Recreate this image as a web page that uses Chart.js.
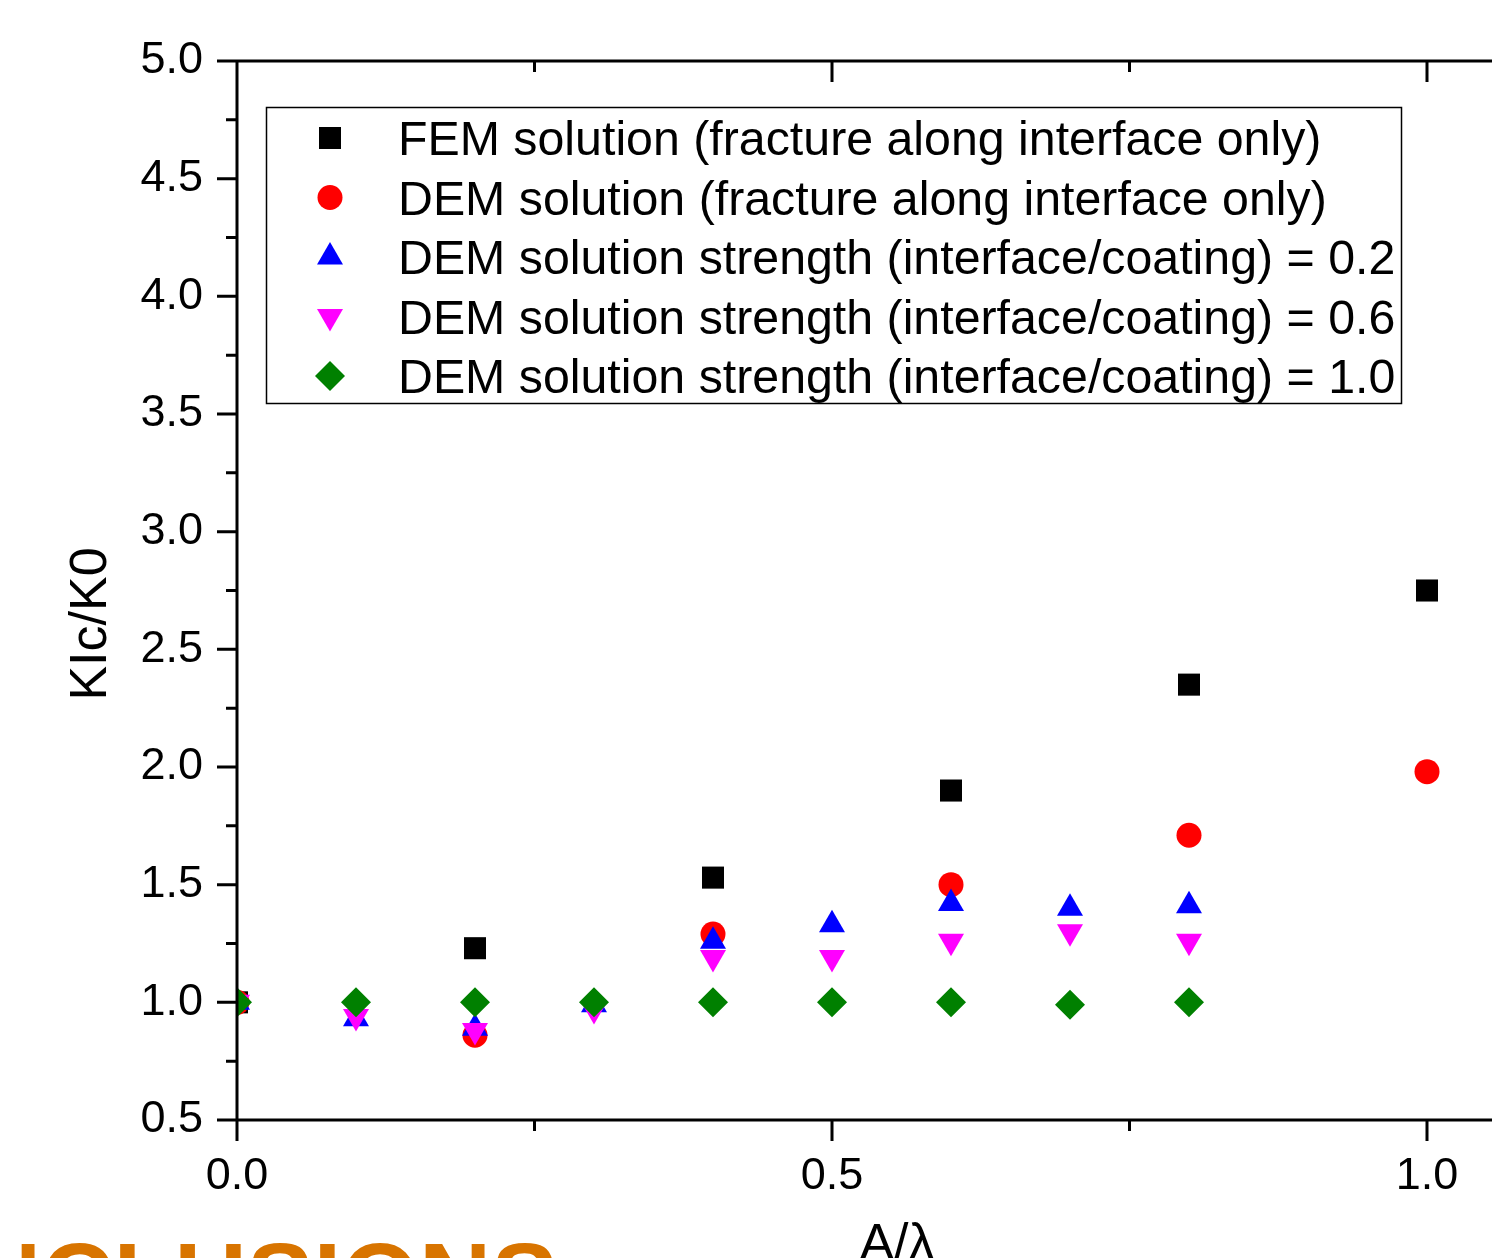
<!DOCTYPE html>
<html>
<head>
<meta charset="utf-8">
<script src="https://cdn.jsdelivr.net/npm/chart.js@4.4.1/dist/chart.umd.min.js"></script>
<style>
    html, body { margin: 0; padding: 0; background: #fff; overflow: hidden; }
    #wrap { width: 1492px; height: 1258px; overflow: hidden; position: relative; }
    canvas { display: block; }
</style>
</head>
<body>
<div id="wrap"><canvas id="chart" width="1600" height="1258"></canvas></div>
<script>
// values
const xFem = [0, 0.2, 0.4, 0.6, 0.8, 1.0];
const femVals = [1.0, 1.23, 1.53, 1.90, 2.35, 2.75];

const xDem = [0, 0.2, 0.4, 0.6, 0.8, 1.0];
const demVals = [1.0, 0.86, 1.29, 1.50, 1.71, 1.98];

const xStrength = [0, 0.1, 0.2, 0.3, 0.4, 0.5, 0.6, 0.7, 0.8];
const strength02 = [1.0, 0.93, 0.89, 0.99, 1.26, 1.33, 1.42, 1.40, 1.41];
const strength06 = [1.0, 0.94, 0.88, 0.97, 1.19, 1.19, 1.26, 1.30, 1.26];
const strength10 = [1.0, 1.0, 1.0, 1.0, 1.0, 1.0, 1.0, 0.99, 1.0];

const seriesNames = [
    "FEM solution (fracture along interface only)",
    "DEM solution (fracture along interface only)",
    "DEM solution strength (interface/coating) = 0.2",
    "DEM solution strength (interface/coating) = 0.6",
    "DEM solution strength (interface/coating) = 1.0",
];

const xTicks = [0, 0.5, 1.0];
const xMinor = [0.25, 0.75];
const yTicks = [0.5, 1.0, 1.5, 2.0, 2.5, 3.0, 3.5, 4.0, 4.5, 5.0];
const yMinor = [0.75, 1.25, 1.75, 2.25, 2.75, 3.25, 3.75, 4.25, 4.75];

const xTitle = "A/\u03bb";
const yTitle = "KIc/K0";
const footerText = "CONCLUSIONS";

const FONT = "'Liberation Sans', Arial, sans-serif";

function points(xs, ys) {
    return xs.map((x, i) => ({ x: x, y: ys[i] }));
}

function series(label, data, color, style, radius, rotation, order) {
    return {
        label: label,
        data: data,
        pointStyle: style,
        pointRadius: radius,
        pointRotation: rotation,
        pointBackgroundColor: color,
        pointBorderColor: color,
        pointBorderWidth: 0,
        backgroundColor: color,
        borderColor: color,
        showLine: false,
        clip: 0,
        order: order,
    };
}

// axes, ticks, legend box and titles
const decorations = {
    id: "decorations",
    afterDatasetsDraw(chart) {
        let ctx = chart.ctx;
        let a = chart.chartArea;
        let x = chart.scales.x;
        let y = chart.scales.y;

        ctx.save();
        ctx.strokeStyle = "#000";
        ctx.lineWidth = 3;
        ctx.lineCap = "butt";

        ctx.beginPath();
        ctx.moveTo(a.left, a.top);
        ctx.lineTo(a.right, a.top);
        ctx.moveTo(a.left, a.top - 1.5);
        ctx.lineTo(a.left, a.bottom + 1.5);
        ctx.moveTo(a.left, a.bottom);
        ctx.lineTo(a.right, a.bottom);

        xTicks.forEach((v) => {
            let px = x.getPixelForValue(v);
            ctx.moveTo(px, a.bottom);
            ctx.lineTo(px, a.bottom + 21);
            ctx.moveTo(px, a.top);
            ctx.lineTo(px, a.top + 21);
        });
        xMinor.forEach((v) => {
            let px = x.getPixelForValue(v);
            ctx.moveTo(px, a.bottom);
            ctx.lineTo(px, a.bottom + 11);
            ctx.moveTo(px, a.top);
            ctx.lineTo(px, a.top + 11);
        });
        yTicks.forEach((v) => {
            let py = y.getPixelForValue(v);
            ctx.moveTo(a.left, py);
            ctx.lineTo(a.left - 20, py);
        });
        yMinor.forEach((v) => {
            let py = y.getPixelForValue(v);
            ctx.moveTo(a.left, py);
            ctx.lineTo(a.left - 11, py);
        });
        ctx.stroke();
        ctx.restore();
    },
    afterDraw(chart) {
        let ctx = chart.ctx;

        ctx.save();

        // legend
        ctx.strokeStyle = "#000";
        ctx.lineWidth = 1.5;
        ctx.strokeRect(266.5, 107.5, 1135, 296);

        ctx.font = "48.3px " + FONT;
        ctx.textAlign = "left";
        ctx.textBaseline = "alphabetic";
        chart.data.datasets.forEach((ds, i) => {
            let rowY = 138 + i * 59.5;
            ctx.fillStyle = ds.pointBackgroundColor;
            ctx.strokeStyle = ds.pointBorderColor;
            Chart.helpers.drawPoint(ctx, {
                pointStyle: ds.pointStyle,
                radius: ds.pointRadius,
                rotation: ds.pointRotation,
                borderWidth: 0,
            }, 330, rowY);
            ctx.fillStyle = "#000";
            ctx.fillText(ds.label, 398, rowY + 17);
        });

        // axis titles
        ctx.fillStyle = "#000";
        ctx.font = "52px " + FONT;
        ctx.textAlign = "center";
        ctx.fillText(xTitle, 897, 1260);

        ctx.save();
        ctx.translate(106, 624);
        ctx.rotate(-Math.PI / 2);
        ctx.fillText(yTitle, 0, 0);
        ctx.restore();

        // slide heading cut at the bottom
        ctx.fillStyle = "#D87400";
        ctx.font = "bold 100px " + FONT;
        ctx.textAlign = "right";
        ctx.fillText(footerText, 558, 1313);

        ctx.restore();
    },
};

chart = new Chart(document.getElementById("chart"), {
    type: "scatter",
    data: {
        datasets: [
            series(seriesNames[0], points(xFem, femVals), "#000000", "rect", 15.6, 0, 4),
            series(seriesNames[1], points(xDem, demVals), "#FF0000", "circle", 12.5, 0, 3),
            series(seriesNames[2], points(xStrength, strength02), "#0000FF", "triangle", 15, 0, 2),
            series(seriesNames[3], points(xStrength, strength06), "#FF00FF", "triangle", 15, 180, 1),
            series(seriesNames[4], points(xStrength, strength10), "#008000", "rectRot", 15, 0, 0),
        ],
    },
    options: {
        responsive: false,
        animation: false,
        events: [],
        layout: {
            padding: { left: 0, top: 58, right: 54, bottom: 0 },
        },
        plugins: {
            legend: { display: false },
            tooltip: { enabled: false },
        },
        scales: {
            x: {
                type: "linear",
                min: 0,
                max: 1.1,
                grid: { display: false, drawTicks: false },
                border: { display: false },
                afterBuildTicks: (scale) => {
                    scale.ticks = xTicks.map((v) => ({ value: v }));
                },
                afterFit: (scale) => {
                    scale.height = 138;
                },
                ticks: {
                    autoSkip: false,
                    maxRotation: 0,
                    padding: 30,
                    color: "#000",
                    font: { family: FONT, size: 45 },
                    callback: (v) => Number(v).toFixed(1),
                },
            },
            y: {
                type: "linear",
                min: 0.5,
                max: 5.0,
                grid: { display: false, drawTicks: false },
                border: { display: false },
                afterBuildTicks: (scale) => {
                    scale.ticks = yTicks.map((v) => ({ value: v }));
                },
                afterFit: (scale) => {
                    scale.width = 237;
                },
                ticks: {
                    autoSkip: false,
                    padding: 34,
                    color: "#000",
                    font: { family: FONT, size: 45 },
                    callback: (v) => Number(v).toFixed(1),
                },
            },
        },
    },
    plugins: [decorations],
});
</script>
</body>
</html>
